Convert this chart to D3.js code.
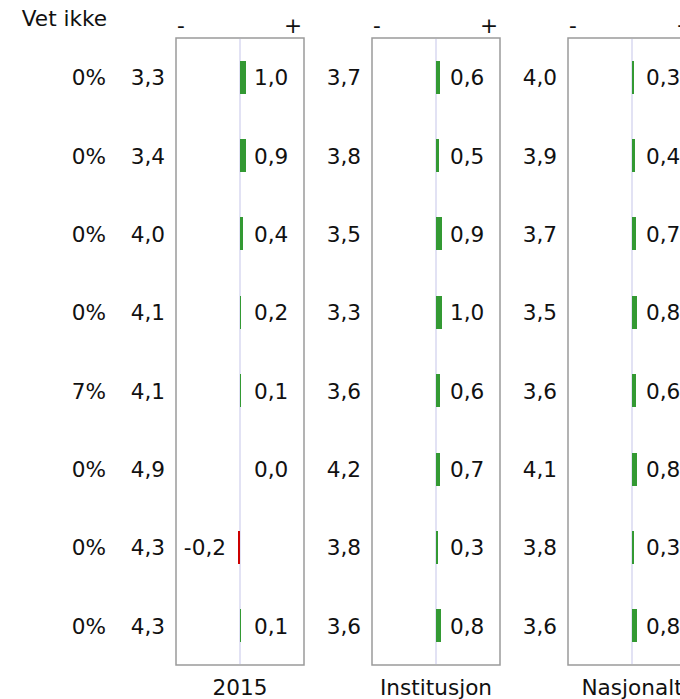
<!DOCTYPE html>
<html>
<head>
<meta charset="UTF-8">
<script src="https://cdn.jsdelivr.net/npm/d3@7"></script>
<style>
  body { margin: 0; background: #fff; }
  text { font-family: Verdana, "DejaVu Sans", sans-serif; font-size: 21.6px; fill: #111; }
</style>
</head>
<body>
<div id="chart"></div>
<script>
// data
var panels = ["2015", "Institusjon", "Nasjonalt"];
var vetIkke = [0, 0, 0, 0, 7, 0, 0, 0];
var means = {
  "2015":        [3.3, 3.4, 4.0, 4.1, 4.1, 4.9, 4.3, 4.3],
  "Institusjon": [3.7, 3.8, 3.5, 3.3, 3.6, 4.2, 3.8, 3.6],
  "Nasjonalt":   [4.0, 3.9, 3.7, 3.5, 3.6, 4.1, 3.8, 3.6]
};
var diffs = {
  "2015":        [1.0, 0.9, 0.4, 0.2, 0.1, 0.0, -0.2, 0.1],
  "Institusjon": [0.6, 0.5, 0.9, 1.0, 0.6, 0.7, 0.3, 0.8],
  "Nasjonalt":   [0.3, 0.4, 0.7, 0.8, 0.6, 0.8, 0.3, 0.8]
};

var width = 680, height = 699;
var boxTop = 38, boxBottom = 665;
var fmt = function(v) { return d3.format(".1f")(v).replace(".", ",").replace("−", "-"); };

var svg = d3.select("#chart").append("svg")
    .attr("width", width)
    .attr("height", height);

var rows = d3.range(vetIkke.length);
var y = d3.scaleBand().domain(rows).range([boxTop, boxBottom]).paddingInner(0.58).paddingOuter(0.29);
var yc = function(i) { return y(i) + y.bandwidth() / 2; };

var px = d3.scaleBand().domain(panels).range([176, 696]).paddingInner(68 / 196).paddingOuter(0);
var bw = px.bandwidth();

// "Vet ikke" column
svg.append("text")
    .attr("x", 107).attr("y", 26)
    .attr("text-anchor", "end")
    .text("Vet ikke");

svg.selectAll(".vet")
    .data(vetIkke)
  .enter().append("text")
    .attr("x", 106)
    .attr("y", function(d, i) { return yc(i) + 8; })
    .attr("text-anchor", "end")
    .text(function(d) { return d + "%"; });

panels.forEach(function(p) {
  var x0 = px(p);
  var x = d3.scaleLinear().domain([-10, 10]).range([x0, x0 + bw]);
  var cx = x(0);
  var g = svg.append("g");

  g.append("rect")
      .attr("x", x0).attr("y", boxTop)
      .attr("width", bw).attr("height", boxBottom - boxTop)
      .attr("fill", "none")
      .attr("stroke", "#9a9a9a")
      .attr("stroke-width", 1.5);

  g.append("line")
      .attr("x1", cx).attr("x2", cx)
      .attr("y1", boxTop + 1).attr("y2", boxBottom - 1)
      .attr("stroke", "#e2e2f4")
      .attr("stroke-width", 2);

  g.append("text").attr("x", x0 + 1).attr("y", 33).text("-");
  g.append("text").attr("x", x0 + bw - 2).attr("y", 33).attr("text-anchor", "end").text("+");

  var barW = function(d) { return d === 0 ? 0 : Math.max(1, Math.round(Math.abs(x(d) - cx))) + (d < 0 ? 1 : 0); };

  g.selectAll(".bar")
      .data(diffs[p])
    .enter().append("rect")
      .attr("shape-rendering", "crispEdges")
      .attr("x", function(d) { return d < 0 ? Math.round(cx) - barW(d) : Math.round(cx); })
      .attr("y", function(d, i) { return y(i); })
      .attr("width", barW)
      .attr("height", y.bandwidth())
      .attr("fill", function(d) { return d < 0 ? "#cc0000" : "#339933"; });

  g.selectAll(".mean")
      .data(means[p])
    .enter().append("text")
      .attr("x", x0 - 11)
      .attr("y", function(d, i) { return yc(i) + 8; })
      .attr("text-anchor", "end")
      .text(fmt);

  g.selectAll(".lab")
      .data(diffs[p])
    .enter().append("text")
      .attr("x", function(d) { return d < 0 ? cx - 14 : cx + 14; })
      .attr("y", function(d, i) { return yc(i) + 8; })
      .attr("text-anchor", function(d) { return d < 0 ? "end" : "start"; })
      .text(fmt);

  g.append("text")
      .attr("x", cx).attr("y", 695)
      .attr("text-anchor", "middle")
      .text(p);
});
</script>
</body>
</html>
